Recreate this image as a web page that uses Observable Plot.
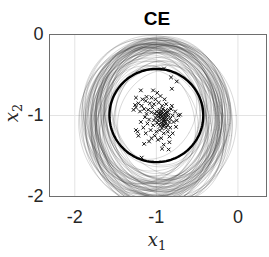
<!DOCTYPE html>
<html><head><meta charset="utf-8">
<script src="https://cdn.jsdelivr.net/npm/d3@7"></script>
<script src="https://cdn.jsdelivr.net/npm/@observablehq/plot@0.6"></script>
<style>body{margin:0;background:#fff} svg{display:block}</style>
</head><body><div id="chart"></div>
<script>
const title = "CE";
const xLabelBase = "x", xLabelSub = "1";
const yLabelBase = "x", yLabelSub = "2";
const xTicks = [-2, -1, 0];
const yTicks = [0, -1, -2];

// ellipses: [cx, cy, rx, ry, angle in degrees]
const ellipses = [
  [-1.00,-1.05,0.80,0.95,5],[-0.98,-1.02,0.75,0.90,-8],[-1.05,-1.08,0.82,0.92,12],
  [-0.95,-1.00,0.70,0.88,0],[-1.02,-1.10,0.78,0.98,-4],[-1.08,-1.00,0.68,0.85,15],
  [-0.92,-1.06,0.72,0.93,-12],[-1.00,-0.98,0.65,0.82,3],[-1.10,-1.12,0.85,0.96,8],
  [-0.90,-1.04,0.80,0.90,-6],[-1.03,-0.95,0.62,0.86,20],[-0.97,-1.15,0.76,1.00,-15],
  [-1.06,-1.03,0.70,0.80,0],[-0.94,-0.97,0.74,0.88,10],[-1.00,-1.08,0.88,0.92,-2],
  [-1.12,-1.05,0.72,0.90,-20],[-0.88,-1.10,0.68,0.94,18],[-1.04,-1.00,0.58,0.75,6],
  [-0.96,-1.02,0.55,0.70,-10],[-1.00,-1.05,0.60,0.78,25],[-1.07,-1.12,0.64,0.88,-25],
  [-0.93,-0.93,0.70,0.84,-3],[-1.01,-1.18,0.79,0.96,7],[-1.09,-0.98,0.76,0.87,-9],
  [-0.91,-1.08,0.83,0.97,14],[-1.02,-1.02,0.50,0.62,30],[-0.99,-0.99,0.45,0.58,-30],
  [-1.05,-1.06,0.66,0.92,2],[-0.95,-1.12,0.71,0.99,-5],[-1.00,-0.96,0.81,0.86,11],
  [-1.14,-1.08,0.78,0.93,4],[-0.86,-1.00,0.73,0.89,-14],[-1.03,-1.14,0.69,0.83,22],
  [-0.97,-0.94,0.77,0.91,-18],[-1.00,-1.00,0.84,0.94,0],[-1.06,-1.09,0.74,0.95,-7],
  [-0.94,-1.03,0.67,0.81,9],[-1.02,-0.92,0.72,0.89,-1],[-0.98,-1.20,0.80,0.93,16],
  [-1.10,-1.02,0.63,0.84,-16],[-0.90,-0.98,0.61,0.80,28],[-1.01,-1.07,0.86,1.02,-3],
  [-1.04,-0.97,0.79,0.85,6],[-0.96,-1.09,0.75,0.90,-22],[-1.08,-1.15,0.70,0.97,12],
  [-0.92,-1.01,0.82,0.88,3],[-1.00,-1.04,0.52,0.72,-12],[-1.03,-1.01,0.57,0.66,40],
  [-0.97,-1.06,0.77,0.99,-8],[-1.05,-0.99,0.81,0.95,17],
  [-0.95,-1.04,0.86,0.97,-4],[-1.02,-1.00,0.89,0.99,9],[-0.93,-1.10,0.84,1.03,-10],
  [-1.07,-1.06,0.87,0.94,6],[-0.89,-1.02,0.78,0.92,-2],[-1.00,-1.12,0.83,1.01,13],
  [-0.96,-0.98,0.79,0.96,-11],[-1.04,-1.04,0.76,0.86,-26],[-0.91,-1.13,0.74,0.96,20],
  [-1.01,-0.99,0.73,0.92,1],[-0.98,-1.07,0.69,0.87,-19],[-1.09,-1.09,0.81,0.99,-6],
  [-0.94,-0.95,0.85,0.90,7],[-1.03,-1.16,0.75,0.95,-13],[-0.88,-1.06,0.86,0.95,4],
  [-1.00,-1.02,0.71,0.98,-1],[-1.06,-0.95,0.83,0.91,24],[-0.97,-1.11,0.90,0.97,-9],
  [-0.92,-0.99,0.76,0.93,12],[-1.05,-1.11,0.58,0.80,-35],[-0.99,-1.03,0.62,0.69,-45],
  [-1.01,-1.09,0.48,0.71,10],[-0.95,-1.06,0.66,0.76,33],[-1.02,-0.97,0.87,0.93,-15]
];

const meanCircle = [-1.0, -1.0, 0.575]; // cx, cy, radius

const samples = [
  [-0.93,-0.95],[-0.90,-0.98],[-0.95,-1.00],[-0.88,-1.02],[-0.92,-1.04],[-0.97,-0.97],[-0.86,-0.96],
  [-0.91,-1.07],[-0.94,-1.09],[-0.89,-1.10],[-0.96,-1.03],[-0.99,-1.00],[-0.87,-1.05],[-0.92,-0.92],
  [-0.85,-1.00],[-0.90,-1.12],[-0.95,-1.13],[-0.98,-1.06],[-0.93,-1.01],[-0.89,-0.94],[-1.00,-0.95],
  [-0.84,-1.08],[-0.91,-0.99],[-0.96,-0.93],[-0.88,-1.15],[-0.94,-1.05],[-1.01,-1.03],[-0.86,-1.12],
  [-0.92,-1.10],[-0.97,-1.11],[-0.90,-1.05],[-0.87,-0.99],[-0.95,-0.96],[-1.02,-0.98],[-0.83,-1.04],
  [-0.93,-1.16],[-0.99,-1.09],[-0.89,-1.08],[-0.94,-0.98],[-0.91,-1.02],[-0.85,-0.93],[-1.03,-1.06],
  [-0.97,-1.01],[-0.88,-0.97],[-0.92,-1.13],
  [-1.05,-0.90],[-1.10,-0.93],[-1.08,-0.85],[-1.15,-0.92],[-1.12,-0.98],[-1.06,-0.96],[-1.18,-0.88],
  [-1.03,-0.86],[-1.20,-0.95],[-1.14,-1.02],[-1.09,-1.05],[-1.04,-1.12],[-1.11,-1.10],[-1.07,-1.18],
  [-1.00,-1.20],[-0.96,-1.18],[-1.02,-1.25],[-0.98,-1.30],[-1.06,-1.28],[-1.13,-1.22],[-1.25,-0.90],
  [-1.22,-0.85],[-1.28,-0.93],[-1.17,-0.80],[-1.13,-0.82],[-1.01,-0.80],[-0.97,-0.84],[-1.06,-0.78],
  [-0.93,-0.88],[-0.88,-0.86],[-0.82,-0.92],[-0.80,-1.00],[-0.79,-1.08],[-0.83,-1.15],[-0.86,-1.20],
  [-0.91,-1.22],[-0.84,-1.26],[-0.80,-1.22],[-0.76,-1.14],[-0.75,-1.06],[-0.73,-1.00],[-0.71,-0.99],
  [-0.77,-0.95],[-1.19,-1.08],[-1.16,-1.15],[-1.23,-1.20],[-1.25,-1.18],[-1.22,-1.25],[-0.94,-1.28],
  [-1.09,-1.32],
  [-0.906,-0.42],[-0.82,-0.53],[-0.75,-0.58],[-0.81,-0.67],[-1.19,-0.69],[-1.04,-0.69],[-0.99,-0.72],
  [-1.25,-0.78],[-1.12,-0.77],[-0.95,-0.76],[-0.90,-0.80],[-1.26,-0.87],[-0.81,-0.88],[-0.91,-1.36],
  [-1.15,-1.35],[-0.85,-1.42],[-1.18,-1.52],[-0.84,-1.33],[-0.93,-1.41]
];

function outline(cx, cy, rx, ry, deg, id) {
  const a = deg * Math.PI / 180, n = 120, pts = [];
  for (let i = 0; i <= n; i++) {
    const t = 2 * Math.PI * i / n, ex = rx * Math.cos(t), ey = ry * Math.sin(t);
    pts.push({x: cx + ex * Math.cos(a) - ey * Math.sin(a), y: cy + ex * Math.sin(a) + ey * Math.cos(a), id});
  }
  return pts;
}
const ellPts = ellipses.flatMap((e, i) => outline(e[0], e[1], e[2], e[3], e[4], i));
const circPts = outline(meanCircle[0], meanCircle[1], meanCircle[2], meanCircle[2], 0, "m");
const pts = samples.map(d => ({x: d[0], y: d[1]}));

const fmt = d => String(d);
const svg = Plot.plot({
  width: 269, height: 257,
  marginLeft: 49, marginRight: 3, marginTop: 34, marginBottom: 61,
  x: {domain: [-2.31, 0.35]},
  y: {domain: [-2, 0]},
  style: {fontFamily: "'Liberation Sans', Arial, sans-serif", fontSize: "18px", color: "#262626", background: "#fff", overflow: "visible"},
  marks: [
    Plot.gridX(xTicks, {stroke: "#e3e3e3", strokeOpacity: 1}),
    Plot.gridY(yTicks, {stroke: "#e3e3e3", strokeOpacity: 1}),
    Plot.line(ellPts, {x: "x", y: "y", z: "id", stroke: "#333", strokeOpacity: 0.24, strokeWidth: 0.8, clip: true}),
    Plot.line(circPts, {x: "x", y: "y", stroke: "#000", strokeWidth: 2.4, clip: true}),
    Plot.dot(pts, {x: "x", y: "y", symbol: "times", r: 1.8, stroke: "#111", strokeWidth: 1}),
    Plot.frame({stroke: "#6e6e6e", strokeWidth: 1}),
    Plot.axisX(xTicks, {tickSize: 0, tickPadding: 14, label: null, tickFormat: fmt, fontSize: 18}),
    Plot.axisY(yTicks, {tickSize: 0, tickPadding: 6, label: null, tickFormat: fmt, fontSize: 18})
  ]
});
document.getElementById("chart").appendChild(svg);

const s = d3.select(svg);
s.append("text").attr("x", 157).attr("y", 25).attr("text-anchor", "middle")
  .attr("font-family", "'Liberation Sans', Arial, sans-serif").attr("font-weight", "bold")
  .attr("font-size", 19).attr("fill", "#000").text(title);

function mathLabel(g) {
  return g.append("text").attr("text-anchor", "middle").attr("fill", "#262626")
    .attr("font-family", "'DejaVu Serif', 'Liberation Serif', serif");
}
const xl = mathLabel(s.append("g").attr("transform", "translate(157,246)"));
xl.append("tspan").attr("font-style", "italic").attr("font-size", 18).text(xLabelBase);
xl.append("tspan").attr("font-size", 13).attr("dy", 4).text(xLabelSub);

const yl = mathLabel(s.append("g").attr("transform", "translate(18,113) rotate(-90)"));
yl.append("tspan").attr("font-style", "italic").attr("font-size", 18).text(yLabelBase);
yl.append("tspan").attr("font-size", 13).attr("dy", 4).text(yLabelSub);
</script>
</body></html>
